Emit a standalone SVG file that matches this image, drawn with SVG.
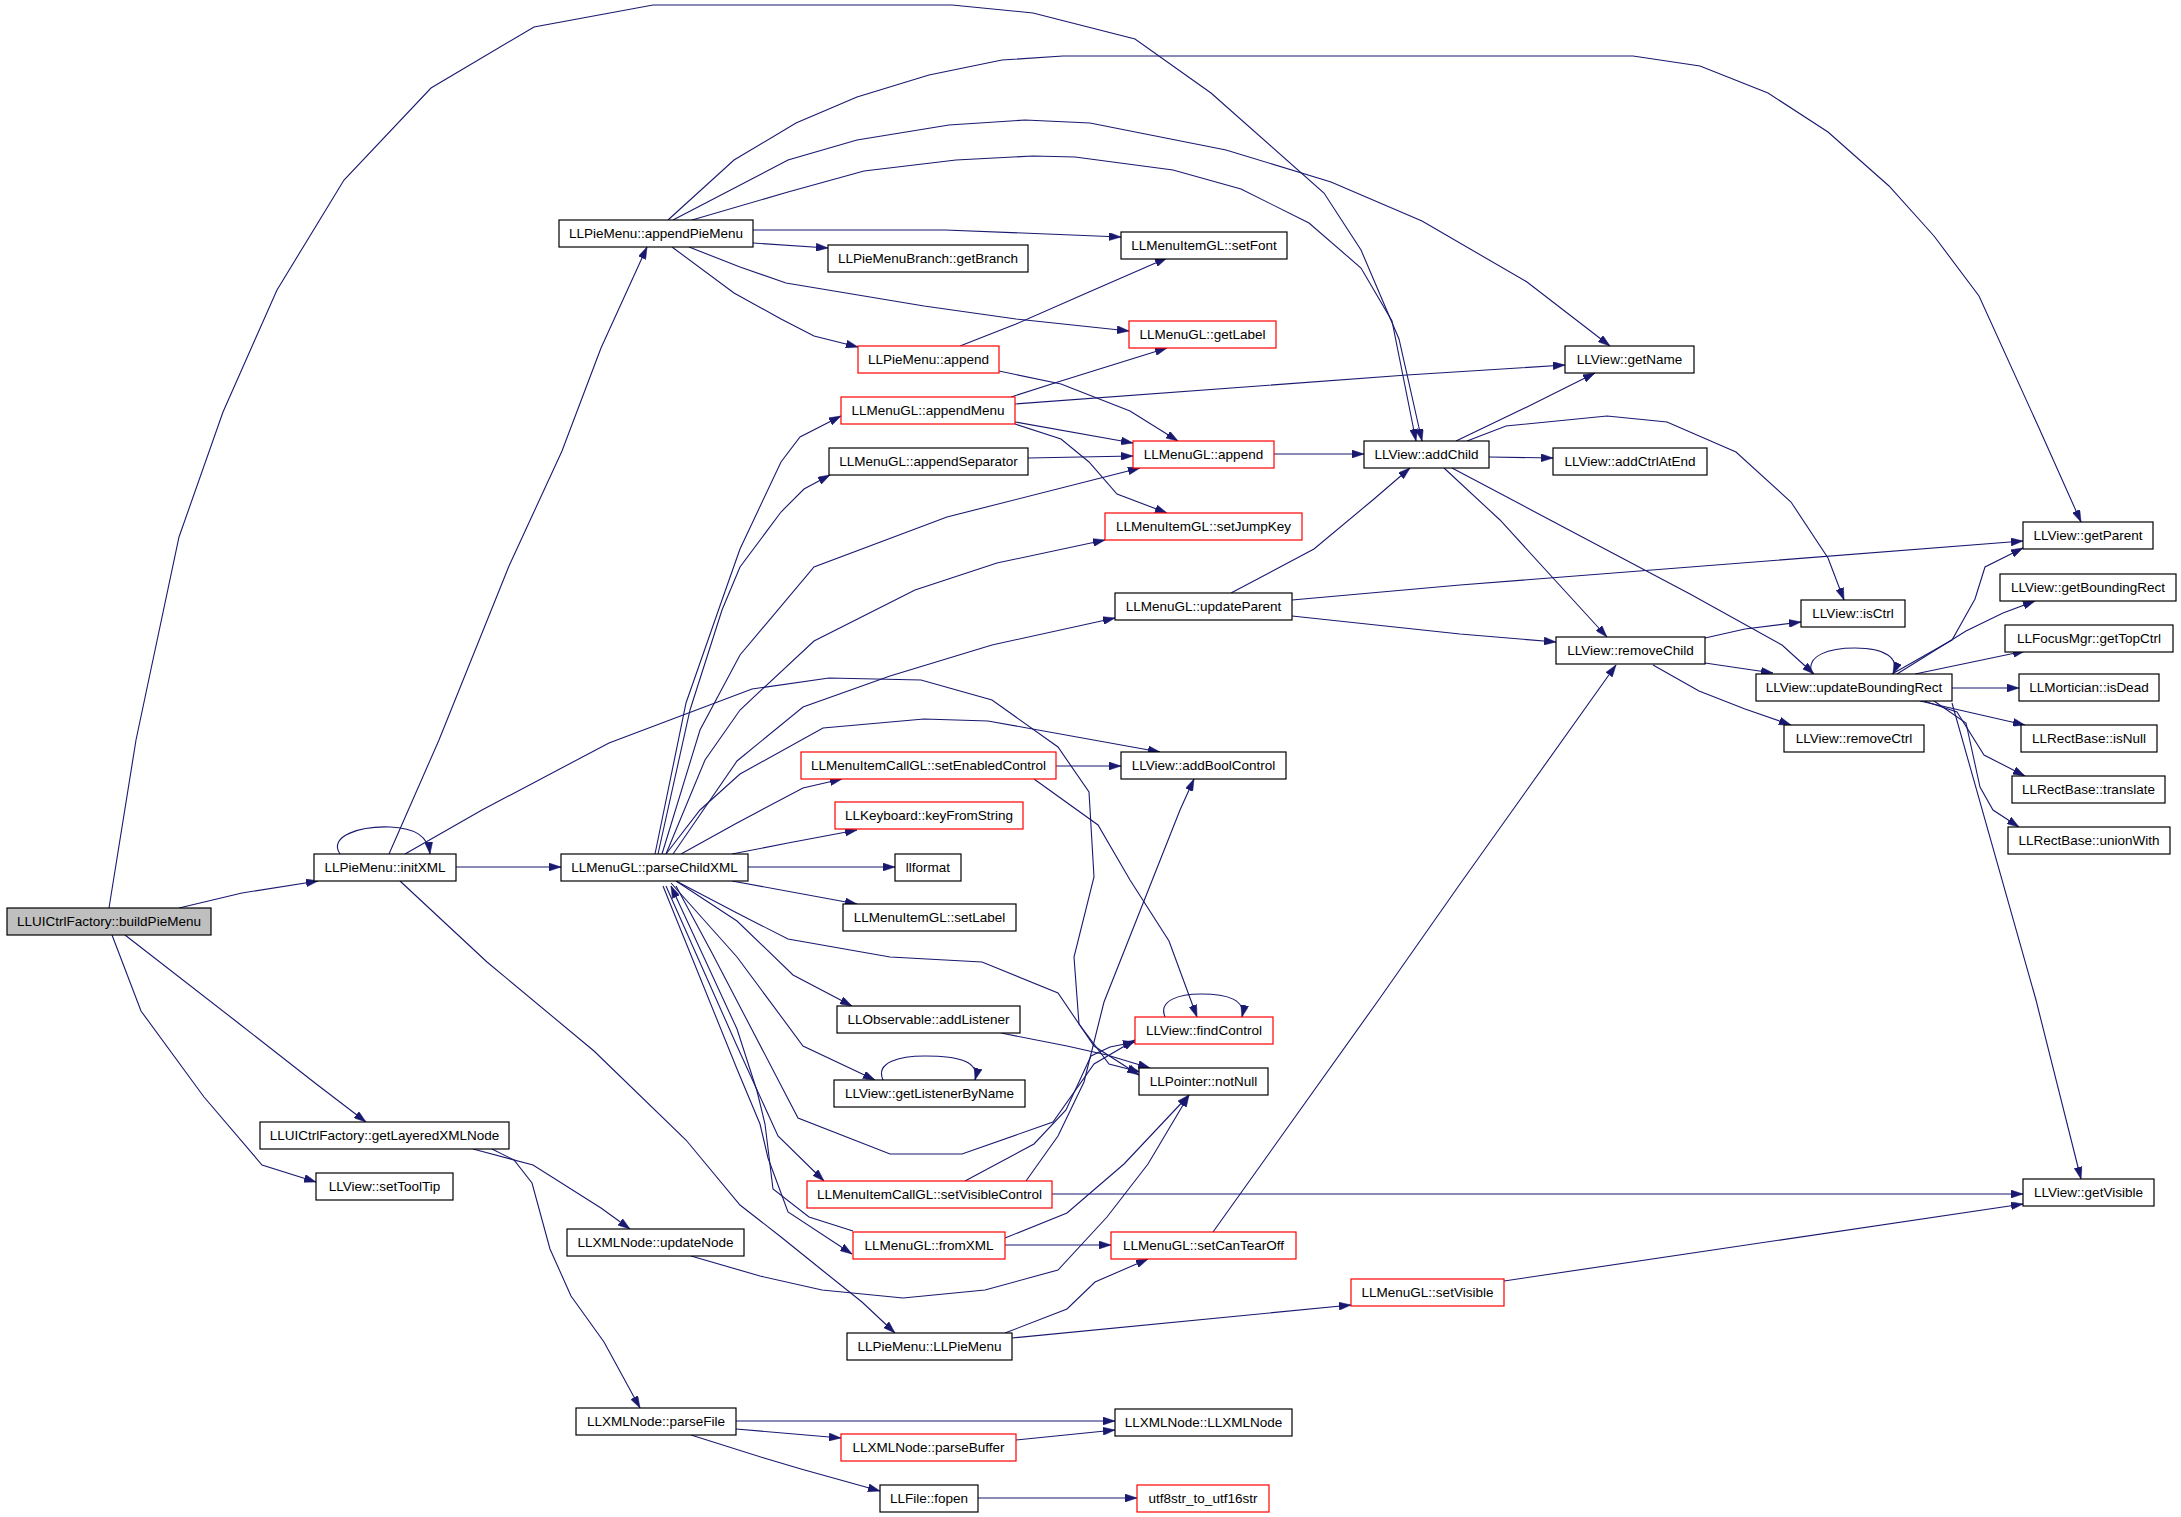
<svg xmlns="http://www.w3.org/2000/svg" width="2181" height="1517" viewBox="0 0 2181 1517">
<style>
.n rect{fill:#ffffff;stroke:#000000;stroke-width:1.2}
.n.r rect{stroke:#ff0000}
.n.g rect{fill:#bfbfbf}
.n text{font-family:"Liberation Sans",Arial,sans-serif;font-size:13.5px;fill:#000000;text-anchor:middle}
#edges path{fill:none;stroke:#191970;stroke-width:1.1;marker-end:url(#arr)}
</style>
<defs>
<marker id="arr" markerUnits="userSpaceOnUse" markerWidth="12" markerHeight="8" refX="12" refY="4" orient="auto">
<path d="M0,0 L12,4 L0,8 z" fill="#191970" stroke="#191970" stroke-width="0.5"/>
</marker>
</defs>
<rect x="0" y="0" width="2181" height="1517" fill="#ffffff"/>
<g id="edges">
<path d="M179,908 L242,893 L318,881"/>
<path d="M109,908 L136,740 L179,537 L223,412 L277,290 L344,180 L431,88 L534,27 L653,5 L952,5 L1033,13 L1135,39 L1211,93 L1324,193 L1361,250 L1399,339 L1422,441"/>
<path d="M125,935 L237,1022 L315,1083 L366,1122"/>
<path d="M112,935 L141,1011 L204,1097 L262,1165 L316,1182"/>
<path d="M340,854 C328,836 360,826 390,827 C415,828 428,836 430,854"/>
<path d="M456,867 L561,867"/>
<path d="M389,854 L439,740 L509,566 L562,451 L601,348 L647,247"/>
<path d="M400,881 L487,962 L594,1051 L686,1140 L740,1205 L781,1237 L822,1270 L862,1302 L895,1333"/>
<path d="M405,854 L482,810 L609,743 L752,689 L829,678 L921,680 L992,700 L1058,747 L1089,792 L1094,877 L1074,957 L1079,1024 L1109,1064 L1140,1072"/>
<path d="M753,230 L945,230 L1121,237"/>
<path d="M753,243 L828,248"/>
<path d="M689,247 L740,267 L786,283 L924,306 L1016,319 L1129,331"/>
<path d="M672,247 L734,293 L781,319 L814,336 L858,347"/>
<path d="M668,220 L734,160 L796,123 L857,97 L929,75 L1002,60 L1063,56 L1633,56 L1700,66 L1768,93 L1828,132 L1889,186 L1934,236 L1979,296 L2039,428 L2081,522"/>
<path d="M673,220 L788,160 L857,140 L949,125 L1025,120 L1090,123 L1226,150 L1331,182 L1422,221 L1527,282 L1610,346"/>
<path d="M692,220 L788,192 L864,171 L956,160 L1033,156 L1075,157 L1173,170 L1241,189 L1309,223 L1361,268 L1392,321 L1416,441"/>
<path d="M960,346 L1016,324 L1089,292 L1167,258"/>
<path d="M999,371 L1061,384 L1130,411 L1178,441"/>
<path d="M1011,397 L1061,381 L1167,348"/>
<path d="M1015,404 L1407,375 L1565,365"/>
<path d="M1015,422 L1133,443"/>
<path d="M1015,424 L1061,439 L1089,462 L1117,494 L1167,513"/>
<path d="M1028,458 L1133,456"/>
<path d="M1274,454 L1364,454"/>
<path d="M1456,441 L1527,407 L1595,373"/>
<path d="M1489,457 L1553,458"/>
<path d="M1467,441 L1506,426 L1607,416 L1667,422 L1736,452 L1791,502 L1828,558 L1844,600"/>
<path d="M1444,468 L1500,520 L1607,637"/>
<path d="M1452,468 L1552,521 L1690,594 L1782,645 L1814,674"/>
<path d="M1231,593 L1314,549 L1374,499 L1410,468"/>
<path d="M1292,600 L1460,585 L2023,541"/>
<path d="M1292,616 L1460,634 L1556,642"/>
<path d="M1705,638 L1745,629 L1801,622"/>
<path d="M1705,663 L1773,673"/>
<path d="M1653,665 L1699,691 L1745,709 L1791,725"/>
<path d="M1812,674 C1805,655 1830,648 1855,648 C1885,648 1900,658 1893,674"/>
<path d="M1892,674 L1952,640 L1975,599 L1985,567 L2023,548"/>
<path d="M1897,674 L1966,631 L2003,613 L2035,601"/>
<path d="M1915,674 L2025,651"/>
<path d="M1952,688 L2019,688"/>
<path d="M1920,701 L2025,725"/>
<path d="M1924,701 L1957,712 L1984,755 L2025,776"/>
<path d="M1934,701 L1966,723 L1980,787 L1993,810 L2019,827"/>
<path d="M1952,703 L2036,1000 L2081,1179"/>
<path d="M1056,766 L1121,766"/>
<path d="M1034,779 L1098,825 L1130,880 L1169,941 L1197,1017"/>
<path d="M655,854 L686,703 L722,600 L740,549 L781,462 L800,437 L841,416"/>
<path d="M658,854 L690,710 L722,610 L740,567 L781,512 L804,489 L830,475"/>
<path d="M662,854 L700,730 L740,655 L814,567 L947,517 L1140,468"/>
<path d="M666,854 L705,760 L740,710 L814,641 L915,590 L997,563 L1105,540"/>
<path d="M673,854 L737,761 L803,707 L890,676 L992,645 L1115,618"/>
<path d="M666,854 L700,810 L740,774 L823,728 L924,719 L988,721 L1160,752"/>
<path d="M681,854 L737,823 L803,788 L842,779"/>
<path d="M732,854 L788,843 L857,830"/>
<path d="M748,867 L895,867"/>
<path d="M732,881 L857,904"/>
<path d="M676,881 L737,921 L793,975 L852,1006"/>
<path d="M671,883 L737,957 L803,1046 L875,1080"/>
<path d="M676,886 L712,953 L798,1118 L890,1154 L962,1154 L1053,1122 L1094,1064 L1135,1040"/>
<path d="M676,881 L737,913 L788,939 L890,957 L982,962 L1058,993 L1094,1046 L1139,1075"/>
<path d="M666,886 L737,1046 L778,1136 L824,1181"/>
<path d="M663,886 L737,1069 L760,1124 L768,1158 L788,1212 L852,1254"/>
<path d="M853,1231 L809,1217 L773,1189 L765,1124 L757,1091 L737,1029 L671,886"/>
<path d="M1026,1181 L1058,1136 L1084,1082 L1104,1002 L1180,810 L1194,779"/>
<path d="M965,1181 L1034,1144 L1066,1110 L1091,1056 L1110,1047 L1135,1042"/>
<path d="M1052,1194 L2023,1194"/>
<path d="M1005,1245 L1111,1245"/>
<path d="M1005,1238 L1067,1213 L1124,1164 L1189,1095"/>
<path d="M1213,1232 L1380,998 L1460,884 L1616,665"/>
<path d="M1005,1333 L1067,1309 L1095,1282 L1148,1259"/>
<path d="M1012,1338 L1351,1305"/>
<path d="M1504,1281 L2023,1204"/>
<path d="M473,1149 L533,1165 L601,1208 L630,1229"/>
<path d="M492,1149 L514,1160 L532,1183 L550,1249 L571,1296 L604,1342 L640,1408"/>
<path d="M691,1256 L760,1276 L822,1290 L903,1298 L985,1290 L1058,1270 L1107,1217 L1148,1164 L1189,1095"/>
<path d="M736,1421 L1115,1421"/>
<path d="M736,1429 L841,1438"/>
<path d="M691,1435 L764,1458 L801,1469 L880,1491"/>
<path d="M1016,1440 L1115,1430"/>
<path d="M978,1498 L1137,1498"/>
<path d="M1001,1033 L1067,1046 L1107,1055 L1150,1068"/>
<path d="M883,1080 C875,1062 900,1056 925,1056 C960,1056 980,1062 975,1080"/>
<path d="M1165,1017 C1158,1000 1180,994 1201,994 C1228,994 1246,1000 1242,1017"/>
</g>
<g id="n_buildPieMenu" class="n g"><rect x="7" y="908" width="204" height="27"/><text x="109" y="926">LLUICtrlFactory::buildPieMenu</text></g>
<g id="n_initXML" class="n"><rect x="314" y="854" width="142" height="27"/><text x="385" y="872">LLPieMenu::initXML</text></g>
<g id="n_parseChildXML" class="n"><rect x="561" y="854" width="187" height="27"/><text x="654.5" y="872">LLMenuGL::parseChildXML</text></g>
<g id="n_getLayeredXMLNode" class="n"><rect x="260" y="1122" width="249" height="27"/><text x="384.5" y="1140">LLUICtrlFactory::getLayeredXMLNode</text></g>
<g id="n_setToolTip" class="n"><rect x="316" y="1173" width="137" height="27"/><text x="384.5" y="1191">LLView::setToolTip</text></g>
<g id="n_updateNode" class="n"><rect x="567" y="1229" width="177" height="27"/><text x="655.5" y="1247">LLXMLNode::updateNode</text></g>
<g id="n_appendPieMenu" class="n"><rect x="559" y="220" width="194" height="27"/><text x="656" y="238">LLPieMenu::appendPieMenu</text></g>
<g id="n_getBranch" class="n"><rect x="828" y="245" width="200" height="27"/><text x="928" y="263">LLPieMenuBranch::getBranch</text></g>
<g id="n_setFont" class="n"><rect x="1121" y="232" width="166" height="27"/><text x="1204" y="250">LLMenuItemGL::setFont</text></g>
<g id="n_getLabel" class="n r"><rect x="1129" y="321" width="147" height="27"/><text x="1202.5" y="339">LLMenuGL::getLabel</text></g>
<g id="n_pieAppend" class="n r"><rect x="858" y="346" width="141" height="27"/><text x="928.5" y="364">LLPieMenu::append</text></g>
<g id="n_appendMenu" class="n r"><rect x="841" y="397" width="174" height="27"/><text x="928" y="415">LLMenuGL::appendMenu</text></g>
<g id="n_appendSeparator" class="n"><rect x="829" y="448" width="199" height="27"/><text x="928.5" y="466">LLMenuGL::appendSeparator</text></g>
<g id="n_menuAppend" class="n r"><rect x="1133" y="441" width="141" height="27"/><text x="1203.5" y="459">LLMenuGL::append</text></g>
<g id="n_addChild" class="n"><rect x="1364" y="441" width="125" height="27"/><text x="1426.5" y="459">LLView::addChild</text></g>
<g id="n_setJumpKey" class="n r"><rect x="1105" y="513" width="197" height="27"/><text x="1203.5" y="531">LLMenuItemGL::setJumpKey</text></g>
<g id="n_updateParent" class="n"><rect x="1115" y="593" width="177" height="27"/><text x="1203.5" y="611">LLMenuGL::updateParent</text></g>
<g id="n_setEnabledControl" class="n r"><rect x="801" y="752" width="255" height="27"/><text x="928.5" y="770">LLMenuItemCallGL::setEnabledControl</text></g>
<g id="n_addBoolControl" class="n"><rect x="1121" y="752" width="165" height="27"/><text x="1203.5" y="770">LLView::addBoolControl</text></g>
<g id="n_keyFromString" class="n r"><rect x="835" y="802" width="188" height="27"/><text x="929" y="820">LLKeyboard::keyFromString</text></g>
<g id="n_llformat" class="n"><rect x="895" y="854" width="66" height="27"/><text x="928" y="872">llformat</text></g>
<g id="n_setLabel" class="n"><rect x="843" y="904" width="173" height="27"/><text x="929.5" y="922">LLMenuItemGL::setLabel</text></g>
<g id="n_addListener" class="n"><rect x="837" y="1006" width="183" height="27"/><text x="928.5" y="1024">LLObservable::addListener</text></g>
<g id="n_getListenerByName" class="n"><rect x="834" y="1080" width="191" height="27"/><text x="929.5" y="1098">LLView::getListenerByName</text></g>
<g id="n_findControl" class="n r"><rect x="1135" y="1017" width="138" height="27"/><text x="1204" y="1035">LLView::findControl</text></g>
<g id="n_notNull" class="n"><rect x="1139" y="1068" width="129" height="27"/><text x="1203.5" y="1086">LLPointer::notNull</text></g>
<g id="n_setVisibleControl" class="n r"><rect x="807" y="1181" width="245" height="27"/><text x="929.5" y="1199">LLMenuItemCallGL::setVisibleControl</text></g>
<g id="n_fromXML" class="n r"><rect x="853" y="1232" width="152" height="27"/><text x="929" y="1250">LLMenuGL::fromXML</text></g>
<g id="n_setCanTearOff" class="n r"><rect x="1111" y="1232" width="185" height="27"/><text x="1203.5" y="1250">LLMenuGL::setCanTearOff</text></g>
<g id="n_setVisible" class="n r"><rect x="1351" y="1279" width="153" height="27"/><text x="1427.5" y="1297">LLMenuGL::setVisible</text></g>
<g id="n_LLPieMenu" class="n"><rect x="847" y="1333" width="165" height="27"/><text x="929.5" y="1351">LLPieMenu::LLPieMenu</text></g>
<g id="n_LLXMLNode" class="n"><rect x="1115" y="1409" width="177" height="27"/><text x="1203.5" y="1427">LLXMLNode::LLXMLNode</text></g>
<g id="n_parseBuffer" class="n r"><rect x="841" y="1434" width="175" height="27"/><text x="928.5" y="1452">LLXMLNode::parseBuffer</text></g>
<g id="n_fopen" class="n"><rect x="880" y="1485" width="98" height="27"/><text x="929" y="1503">LLFile::fopen</text></g>
<g id="n_utf8str" class="n r"><rect x="1137" y="1485" width="132" height="27"/><text x="1203" y="1503">utf8str_to_utf16str</text></g>
<g id="n_parseFile" class="n"><rect x="576" y="1408" width="160" height="27"/><text x="656" y="1426">LLXMLNode::parseFile</text></g>
<g id="n_getName" class="n"><rect x="1565" y="346" width="129" height="27"/><text x="1629.5" y="364">LLView::getName</text></g>
<g id="n_addCtrlAtEnd" class="n"><rect x="1553" y="448" width="154" height="27"/><text x="1630" y="466">LLView::addCtrlAtEnd</text></g>
<g id="n_getParent" class="n"><rect x="2023" y="522" width="130" height="27"/><text x="2088" y="540">LLView::getParent</text></g>
<g id="n_getBoundingRect" class="n"><rect x="2000" y="574" width="176" height="27"/><text x="2088" y="592">LLView::getBoundingRect</text></g>
<g id="n_getTopCtrl" class="n"><rect x="2005" y="625" width="168" height="27"/><text x="2089" y="643">LLFocusMgr::getTopCtrl</text></g>
<g id="n_isCtrl" class="n"><rect x="1801" y="600" width="104" height="27"/><text x="1853" y="618">LLView::isCtrl</text></g>
<g id="n_removeChild" class="n"><rect x="1556" y="637" width="149" height="27"/><text x="1630.5" y="655">LLView::removeChild</text></g>
<g id="n_updateBoundingRect" class="n"><rect x="1756" y="674" width="196" height="27"/><text x="1854" y="692">LLView::updateBoundingRect</text></g>
<g id="n_isDead" class="n"><rect x="2019" y="674" width="140" height="27"/><text x="2089" y="692">LLMortician::isDead</text></g>
<g id="n_removeCtrl" class="n"><rect x="1784" y="725" width="140" height="27"/><text x="1854" y="743">LLView::removeCtrl</text></g>
<g id="n_isNull" class="n"><rect x="2021" y="725" width="136" height="27"/><text x="2089" y="743">LLRectBase::isNull</text></g>
<g id="n_translate" class="n"><rect x="2012" y="776" width="153" height="27"/><text x="2088.5" y="794">LLRectBase::translate</text></g>
<g id="n_unionWith" class="n"><rect x="2008" y="827" width="162" height="27"/><text x="2089" y="845">LLRectBase::unionWith</text></g>
<g id="n_getVisible" class="n"><rect x="2023" y="1179" width="131" height="27"/><text x="2088.5" y="1197">LLView::getVisible</text></g>
</svg>
